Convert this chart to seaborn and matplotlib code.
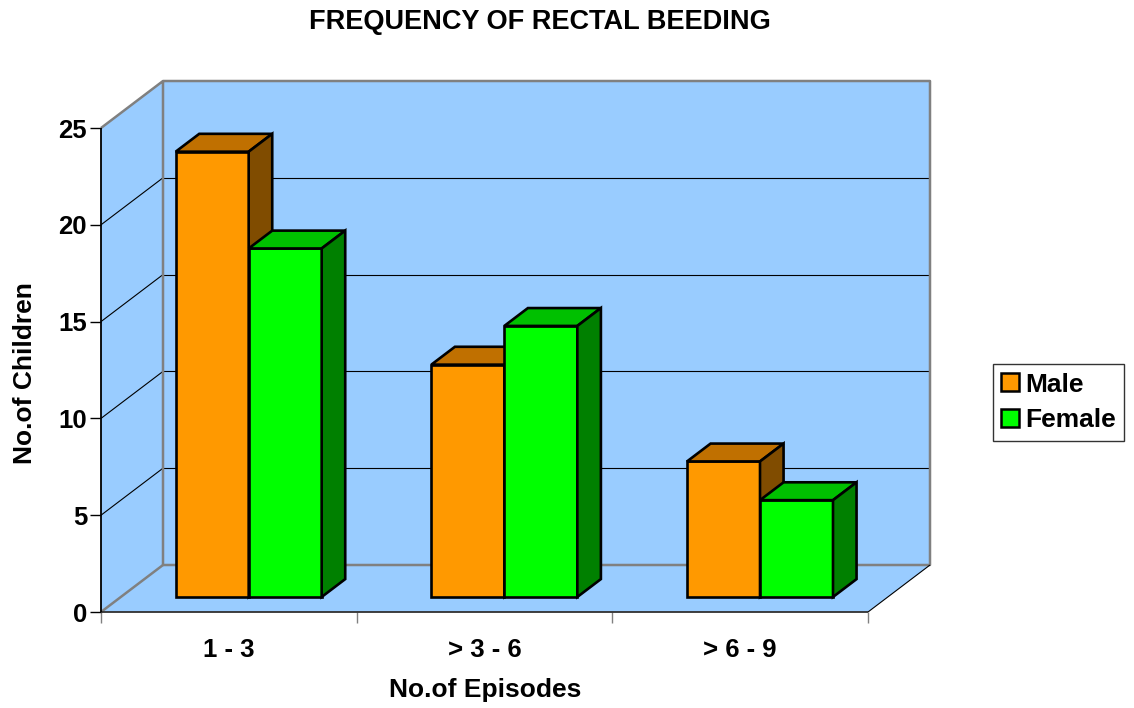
import numpy as np
import pandas as pd
import seaborn as sns
import matplotlib
matplotlib.use("Agg")
import matplotlib.pyplot as plt
from matplotlib.patches import Polygon, Patch, Rectangle
from matplotlib.transforms import Affine2D

# ---- data ----
categories = ["1 - 3", "> 3 - 6", "> 6 - 9"]
male = [23, 12, 7]
female = [18, 14, 5]
series = ["Male", "Female"]
y_ticks = [0, 5, 10, 15, 20, 25]
title = "FREQUENCY OF RECTAL BEEDING"
x_label = "No.of Episodes"
y_label = "No.of Children"

front_colors = {"Male": "#FF9900", "Female": "#00FF00"}
top_colors = {"Male": "#C07000", "Female": "#00C000"}
side_colors = {"Male": "#804C00", "Female": "#008000"}
wall_color = "#99CCFF"
grey = "#808080"

sns.set_theme(style="white")
plt.rcParams["font.family"] = ["Liberation Sans", "DejaVu Sans"]
plt.rcParams["font.weight"] = "bold"
for k in ["text.color", "axes.labelcolor", "xtick.color", "ytick.color",
          "xtick.labelcolor", "ytick.labelcolor"]:
    plt.rcParams[k] = "black"

W, H = 1134, 708
fig = plt.figure(figsize=(W / 100, H / 100), dpi=100)
fig.patch.set_facecolor("white")
px0, px1, py0, py1 = 101, 868, 612, 128   # front plane in pixels
ax = fig.add_axes([px0 / W, 1 - py0 / H, (px1 - px0) / W, (py0 - py1) / H])
ax.set_facecolor("none")

df = pd.DataFrame({
    "Episodes": categories * 2,
    "Count": male + female,
    "Sex": ["Male"] * len(categories) + ["Female"] * len(categories),
})

sns.barplot(data=df, x="Episodes", y="Count", hue="Sex", hue_order=series,
            palette=front_colors, width=0.571, edgecolor="black", linewidth=1.9,
            saturation=1, ax=ax, legend=False, dodge=True)

n = len(categories)
ax.set_xlim(-0.5, n - 0.5)
ax.set_ylim(0, y_ticks[-1])
for s in ax.spines.values():
    s.set_visible(False)

# depth vector in data units
ux = (px1 - px0) / n
uy = (py0 - py1) / y_ticks[-1]
Dx, Dy = 62 / ux, 47 / uy
xl, xr = -0.5, n - 0.5
ytop = y_ticks[-1]

def poly(pts, fc, z, ec="none", lw=0, tr=None):
    p = Polygon(pts, closed=True, facecolor=fc, edgecolor=ec, linewidth=lw,
                zorder=z, clip_on=False, joinstyle="miter")
    if tr is not None:
        p.set_transform(tr)
    ax.add_patch(p)

def line(xs, ys, c, lw, z):
    ax.plot(xs, ys, color=c, lw=lw, zorder=z, clip_on=False, solid_capstyle="butt")

# walls and floor
poly([(xl, 0), (xl, ytop), (xl + Dx, ytop + Dy), (xl + Dx, Dy)], wall_color, 0.1)
poly([(xl + Dx, Dy), (xr + Dx, Dy), (xr + Dx, ytop + Dy), (xl + Dx, ytop + Dy)], wall_color, 0.1)
poly([(xl, 0), (xr, 0), (xr + Dx, Dy), (xl + Dx, Dy)], wall_color, 0.1)

# gridlines
for v in y_ticks[1:-1]:
    line([xl + Dx, xr + Dx], [v + Dy, v + Dy], "black", 0.8, 0.3)
    line([xl, xl + Dx], [v, v + Dy], "black", 0.8, 0.3)

# grey wall edges
line([xl, xl + Dx, xr + Dx, xr + Dx, xl + Dx, xl + Dx],
     [ytop, ytop + Dy, ytop + Dy, Dy, Dy, ytop + Dy], grey, 1.8, 0.5)
line([xl, xl + Dx], [0, Dy], grey, 1.8, 0.5)
# axis lines
line([xr, xr + Dx], [0, Dy], "black", 0.8, 0.6)
line([xl, xr], [0, 0], "#303030", 1.3, 0.7)
line([xl, xl], [0, ytop], "black", 1.3, 0.7)

# 3-D bar faces
ox, oy = 0.32 * Dx, 0.32 * Dy
bx, by = 0.38 * Dx, 0.38 * Dy
tr = Affine2D().translate(ox, oy) + ax.transData
bars = [pp for pp in ax.patches if isinstance(pp, Rectangle)]
for i, p in enumerate(bars):
    s = series[i // n]
    z = 3 + (i // n)
    p.set_transform(tr)
    p.set_zorder(z)
    p.set_joinstyle("miter")
    x, w, h = p.get_x(), p.get_width(), p.get_height()
    poly([(x, h), (x + w, h), (x + w + bx, h + by), (x + bx, h + by)],
         top_colors[s], z, ec="black", lw=1.9, tr=tr)
    poly([(x + w, 0), (x + w, h), (x + w + bx, h + by), (x + w + bx, by)],
         side_colors[s], z, ec="black", lw=1.9, tr=tr)

# ticks
ax.set_yticks(y_ticks)
ax.set_yticklabels([str(v) for v in y_ticks])
ax.tick_params(axis="y", which="major", left=True, length=8, width=1, color="black",
               direction="out", pad=2, labelsize=18.5, labelcolor="black")
ax.set_xticks(np.arange(n + 1) - 0.5)
ax.set_xticklabels([])
ax.set_xticks(np.arange(n), minor=True)
ax.set_xticklabels(categories, minor=True)
ax.tick_params(axis="x", which="major", bottom=True, length=8, width=1, color=grey, direction="out")
ax.tick_params(axis="x", which="minor", bottom=True, length=0, pad=19, labelsize=18.5, labelcolor="black")
for t in ax.get_xticklabels(minor=True) + ax.get_yticklabels():
    t.set_fontweight("bold")

ax.set_xlabel(x_label, fontsize=19, fontweight="bold", va="center", color="black")
ax.xaxis.set_label_coords((485 - px0) / (px1 - px0), (py0 - 690) / (py0 - py1))
ax.set_ylabel(y_label, fontsize=19, fontweight="bold", va="center", ha="center", color="black")
ax.yaxis.set_label_coords((25 - px0) / (px1 - px0), (py0 - 373) / (py0 - py1))

fig.text(540 / W, 1 - 22 / H, title, ha="center", va="center", fontsize=19.5,
         fontweight="bold", color="black")

handles = [Patch(facecolor=front_colors[s], edgecolor="black", linewidth=1.8, label=s) for s in series]
leg = ax.legend(handles=handles, loc="center left", bbox_to_anchor=(993 / W, 1 - 402.5 / H),
                bbox_transform=fig.transFigure, frameon=True, fancybox=False, shadow=False,
                borderaxespad=0, handlelength=0.65, handleheight=0.65, handletextpad=0.25,
                labelspacing=0.45, borderpad=0.32, prop={"size": 19, "weight": "bold"})
leg.get_frame().set_edgecolor("black")
leg.get_frame().set_linewidth(1.0)
for t in leg.get_texts():
    t.set_color("black")

fig.savefig("out.png", dpi=100)
